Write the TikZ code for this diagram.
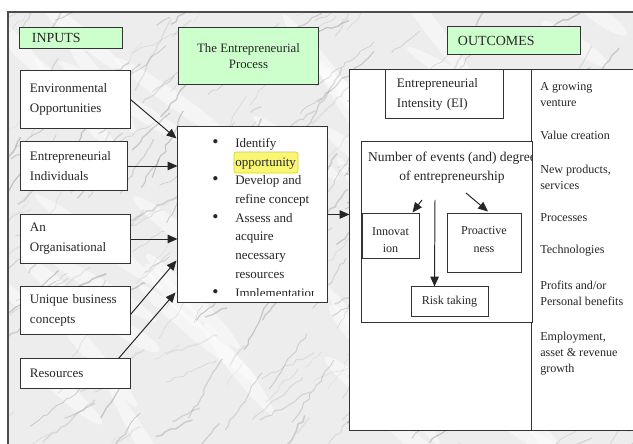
\documentclass[tikz,border=0pt]{standalone}
\usepackage{fontspec}
\setmainfont{Liberation Serif}
\usetikzlibrary{arrows.meta,calc,decorations.pathmorphing}
\definecolor{mint}{HTML}{CCFFCC}
\definecolor{hl}{HTML}{F8F672}
\definecolor{hlb}{HTML}{D2CE48}
\newcommand\bul{\makebox[0.575cm][l]{\fontsize{12.5pt}{0pt}\selectfont\textbullet}}
\begin{document}
\begin{tikzpicture}[x=0.025cm,y=-0.025cm,
  box/.style={draw=black!80, fill=white, line width=0.7pt, inner sep=0pt, text=black!85},
  gbox/.style={box, fill=mint},
  arr/.style={draw=black!85, line width=0.7pt, -{Triangle[length=7pt,width=6pt]}},
  fA/.style={font=\fontsize{9.25pt}{14.2pt}\selectfont},
  fS/.style={font=\fontsize{8.6pt}{12.1pt}\selectfont},
  fR/.style={font=\fontsize{8.6pt}{11.4pt}\selectfont, anchor=west, inner sep=0pt, align=left, text=black!85},
  vein/.style={decorate, decoration={random steps, segment length=4pt, amplitude=1.2pt}}]
\useasboundingbox (0,0) rectangle (633,444);
\fill[white] (0,0) rectangle (633,444);
% marble background
\begin{scope}
  \clip (8,12) rectangle (633,444);
  \fill[gray!14] (8,12) rectangle (633,444);
  \pgfmathsetseed{11}
  \foreach \i in {1,...,45}{
    \pgfmathsetmacro\xa{-40+rnd*700}
    \pgfmathsetmacro\ya{12+rnd*460}
    \pgfmathsetmacro\ang{-30-rnd*30}
    \pgfmathsetmacro\len{30+rnd*70}
    \fill[white, opacity=0.45, rotate around={\ang:(\xa,\ya)}] (\xa,\ya) ellipse [x radius=\len, y radius=8];
  }
  \foreach \i in {1,...,340}{
    \pgfmathsetmacro\xa{-60+rnd*700}
    \pgfmathsetmacro\ya{12+rnd*480}
    \pgfmathsetmacro\ang{-20-rnd*45}
    \pgfmathsetmacro\len{12+rnd*70}
    \pgfmathsetmacro\lw{0.2+rnd*1.0}
    \pgfmathsetmacro\op{0.1+rnd*0.3}
    \draw[vein, black!50, line width=\lw pt, opacity=\op] (\xa,\ya) -- ++(\ang:\len);
  }
\end{scope}
\draw[black!70, line width=0.8pt] (8,444) -- (8,12) -- (633,12);

% headers
\node[gbox, minimum width=2.55cm, minimum height=0.5cm, text width=1.95cm, align=left,
      font=\fontsize{9.9pt}{12pt}\selectfont] (inputs) at (71,38) {INPUTS};
\node[gbox, minimum width=3.475cm, minimum height=1.4cm, align=center,
      font=\fontsize{9.1pt}{11.4pt}\selectfont] (procT) at (248.5,56) {The Entrepreneurial\\Process};
\node[gbox, minimum width=3.3cm, minimum height=0.675cm, text width=2.8cm, align=left,
      font=\fontsize{9.9pt}{12pt}\selectfont] (outT) at (514,40.5) {OUTCOMES};

% inputs
\node[box, fA, minimum width=2.725cm, minimum height=1.425cm, text width=2.275cm, align=left] (env) at (75.5,99.5) {Environmental\\Opportunities};
\node[box, fA, minimum width=2.65cm, minimum height=1.2cm, text width=2.2cm, align=left] (ind) at (74,166) {Entrepreneurial\\Individuals};
\node[box, fA, minimum width=2.725cm, minimum height=1.2cm, text width=2.275cm, align=left] (org) at (75.5,239) {An\\Organisational};
\node[box, fA, minimum width=2.725cm, minimum height=1.175cm, text width=2.275cm, align=left] (uniq) at (75.5,310.5) {Unique business\\concepts};
\node[box, fA, minimum width=2.725cm, minimum height=0.725cm, text width=2.275cm, align=left] (res) at (75.5,373.5) {Resources};

% process box
\node[box, minimum width=3.725cm, minimum height=4.375cm] (proc) at (252.5,214.5) {};
\fill[hl, draw=hlb, line width=0.5pt, rounded corners=1.5pt] (234,152) rectangle (298,173);
\begin{scope}
  \clip (178,127) rectangle (313,296);
  \node[anchor=north west, inner sep=0pt, align=left, text=black!85,
        font=\fontsize{9.25pt}{13.3pt}\selectfont] (plist) at (212,138)
  {\bul Identify\\
   \hspace*{0.575cm}opportunity\\
   \bul Develop and\\
   \hspace*{0.575cm}refine concept\\
   \bul Assess and\\
   \hspace*{0.575cm}acquire\\
   \hspace*{0.575cm}necessary\\
   \hspace*{0.575cm}resources\\
   \bul Implementation};
\end{scope}

% outcomes
\node[box, minimum width=7.5cm, minimum height=9cm] (outbox) at (500,250) {};
\draw[black!80, line width=0.7pt] ($(outbox.north west)+(182,0)$) -- ($(outbox.south west)+(182,0)$);
\node[box, fA, minimum width=2.925cm, minimum height=1.2cm, text width=2.375cm, align=left] (ei) at (444.5,94) {Entrepreneurial\\Intensity (EI)};
\node[box, minimum width=4.25cm, minimum height=4.5cm] (events) at (447,232) {};
\begin{scope}
  \clip (events.north west) rectangle (events.south east);
  \node[align=center, inner sep=0pt, text=black!85, font=\fontsize{9.6pt}{13.5pt}\selectfont] (evtext) at (452,167.5)
  {Number of events (and) degree\\of entrepreneurship};
\end{scope}
\node[box, fS, minimum width=1.425cm, minimum height=1.1cm, align=center] (innov) at (390.5,236) {{}\\Innovat\\ion};
\node[box, fS, minimum width=1.85cm, minimum height=1.45cm, align=center] (proac) at (484,243) {Proactive\\ness\\[-0.25cm]};
\node[box, fS, minimum width=1.925cm, minimum height=0.725cm, align=center] (risk) at (449.5,301.5) {Risk taking};

\coordinate (a1s) at (422,200);
\coordinate (a2s) at (466,193);
\coordinate (a3s) at (435,200);
\draw[arr] (a1s) -- ($(innov.north east)+(-7,-1)$);
\draw[arr] (a2s) -- ($(proac.north)+(4,-2)$);
\draw[arr] (a3s) -- ($(risk.north west)+(24,0)$);

% outcome list
\node[fR] (o1) at (540,94.5) {A growing\\venture};
\node[fR] (o2) at (540,135) {Value creation};
\node[fR] (o3) at (540,177.5) {New products,\\services};
\node[fR] (o4) at (540,218) {Processes};
\node[fR] (o5) at (540,251) {Technologies};
\node[fR] (o6) at (540,293.5) {Profits and/or\\Personal benefits};
\node[fR] (o7) at (540,354) {Employment,\\asset \& revenue\\growth};

% input arrows
\draw[arr] (env.east) -- ($(proc.north west)+(-1,12)$);
\draw[arr] (ind.east) -- (ind.east -| proc.west);
\draw[arr] (org.east) -- (org.east -| proc.west);
\draw[arr] ($(uniq.north east)+(0,28)$) -- ($(proc.south west)+(-1,-42)$);
\draw[arr] ($(res.north east)+(-12,0)$) -- ($(proc.south west)+(-2,-10)$);
\draw[arr] (proc.east) -- (proc.east -| outbox.west);
\end{tikzpicture}
\end{document}
